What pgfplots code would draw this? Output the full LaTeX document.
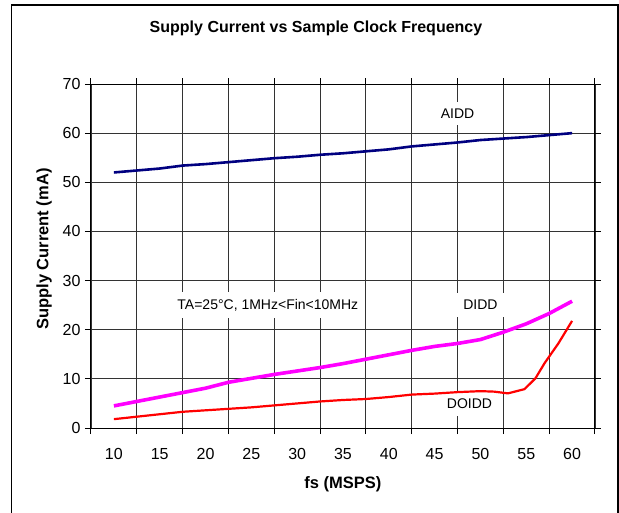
\documentclass[border=0pt]{standalone}
\usepackage{pgfplots}
\pgfplotsset{compat=1.18}
\usetikzlibrary{calc}
\usepackage{fontspec}
\setmainfont{Liberation Sans}
\definecolor{aidd}{RGB}{0,0,128}
\definecolor{didd}{RGB}{255,0,255}
\definecolor{doidd}{RGB}{255,0,0}
\begin{document}
\begin{tikzpicture}[x=1pt,y=1pt]
\begin{axis}[
  scale only axis,
  width=504pt, height=344pt,
  xmin=7.5, xmax=62.5, ymin=0, ymax=70,
  xtick={7.5,12.5,...,62.5},
  xticklabels={10,15,20,25,30,35,40,45,50,55,60,{}},
  xticklabel style={xshift=22.9pt, yshift=-11pt},
  ytick={0,10,...,70},
  yticklabel style={xshift=-1pt},
  tick align=outside, major tick length=6pt,
  xmajorgrids, ymajorgrids,
  grid style={black!80, line width=0.9pt},
  axis line style={line width=1pt},
  tick style={black, line width=1pt},
  tick label style={font=\fontsize{16}{18}\selectfont},
  /pgf/number format/assume math mode=true,
  xlabel={fs (MSPS)},
  ylabel={Supply Current (mA)},
  label style={font=\bfseries\fontsize{16.5}{18}\selectfont},
  xlabel style={at={(rel axis cs:0.5,0)}, anchor=center, yshift=-56pt},
  ylabel style={at={(rel axis cs:0,0.52)}, anchor=center, yshift=47pt},
  clip=false,
]
\coordinate (SW) at (rel axis cs:0,0);
\node[fill=white, inner xsep=6pt, inner ysep=7pt, font=\fontsize{14}{16}\selectfont] at (axis cs:47.5,64) {AIDD};
\node[fill=white, inner xsep=6pt, inner ysep=7pt, font=\fontsize{14}{16}\selectfont] at (axis cs:50,25) {DIDD};
\node[fill=white, inner xsep=6pt, inner ysep=7pt, font=\fontsize{14}{16}\selectfont] at (axis cs:48.8,4.9) {DOIDD};
\node[fill=white, inner xsep=7pt, inner ysep=7pt, font=\fontsize{14}{16}\selectfont] at (axis cs:26.8,25) {TA=25°C, 1MHz<Fin<10MHz};
\addplot[aidd, line width=2.6pt, line join=round] coordinates {
 (10,52.0) (12.5,52.4) (15,52.8) (17.5,53.4) (20,53.7) (22.5,54.1) (25,54.5) (27.5,54.9)
 (30,55.2) (32.5,55.6) (35,55.9) (37.5,56.3) (40,56.7) (42.5,57.3) (45,57.7) (47.5,58.1)
 (50,58.6) (52.5,58.9) (55,59.2) (57.5,59.6) (60,60.0)};
\addplot[didd, line width=3.6pt, line join=round] coordinates {
 (10,4.5) (12.5,5.4) (15,6.3) (17.5,7.2) (20,8.1) (22.5,9.3) (25,10.1) (27.5,10.9)
 (30,11.6) (32.5,12.3) (35,13.1) (37.5,14.0) (40,14.9) (42.5,15.8) (45,16.6) (47.5,17.2)
 (50,18.0) (52.5,19.5) (55,21.2) (57.5,23.3) (60,25.8)};
\addplot[doidd, line width=2.2pt, line join=round] coordinates {
 (10,1.8) (12.5,2.3) (15,2.8) (17.5,3.3) (20,3.6) (22.5,3.9) (25,4.2) (27.5,4.6)
 (30,5.0) (32.5,5.4) (35,5.7) (37.5,5.9) (40,6.3) (42.5,6.8) (45,7.0) (47.5,7.3)
 (50,7.5) (51.5,7.4) (53,7.05) (54.8,7.9) (56,10.1) (57,13.2) (58.5,17.2) (60,21.8)};
\end{axis}
\pgfresetboundingbox
\begin{scope}[shift={($(SW)+(-91,-84)$)}]
\path[use as bounding box] (0,0) rectangle (619,512);
\draw[line width=1.2pt] (11.5,-5) -- (11.5,507) -- (618,507) -- (618,-5);
\node[font=\bfseries\fontsize{16}{18}\selectfont] at (316,484) {Supply Current vs Sample Clock Frequency};
\end{scope}
\end{tikzpicture}
\end{document}
